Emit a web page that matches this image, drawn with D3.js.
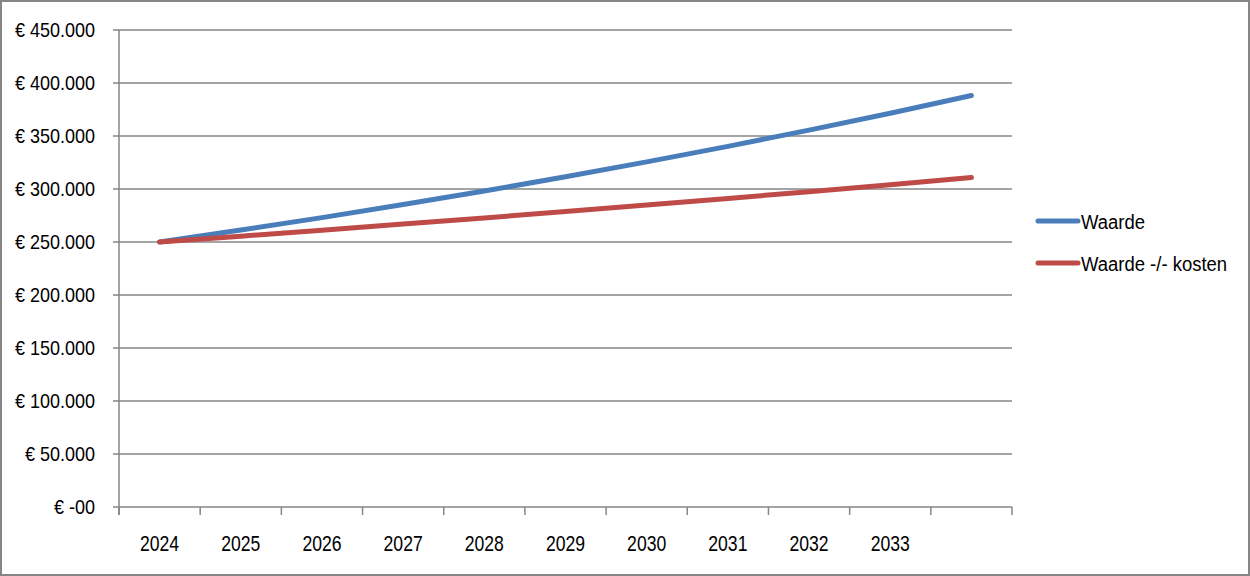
<!DOCTYPE html>
<html>
<head>
<meta charset="utf-8">
<script src="https://cdnjs.cloudflare.com/ajax/libs/d3/7.8.5/d3.min.js"></script>
<style>
  html, body { margin: 0; padding: 0; background: #fff; }
  text { font-family: "Liberation Sans", sans-serif; fill: #000; }
</style>
</head>
<body>
<div id="chart"></div>
<script>
// categories (last band has no label in the original)
var years = ['2024', '2025', '2026', '2027', '2028', '2029', '2030', '2031', '2032', '2033', ''];

// values
var waarde = [250000, 261300, 273000, 285300, 298100, 311500, 325600, 340200, 355500, 371500, 388200];
var waardeMinKosten = [250000, 255500, 261100, 266900, 272700, 278700, 284900, 291100, 297500, 304100, 310800];

var yTicks = [0, 50000, 100000, 150000, 200000, 250000, 300000, 350000, 400000, 450000];

var series = [
  {name: 'Waarde', values: waarde, color: '#4a7ebb'},
  {name: 'Waarde -/- kosten', values: waardeMinKosten, color: '#be4b48'}
];

var width = 1250, height = 576;
var margin = {left: 119, right: 238, top: 30, bottom: 69};

var svg = d3.select('#chart').append('svg')
  .attr('width', width)
  .attr('height', height);

// outer frame
svg.append('rect')
  .attr('x', 1).attr('y', 1)
  .attr('width', width - 2).attr('height', height - 2)
  .attr('fill', '#fff')
  .attr('stroke', '#868686')
  .attr('stroke-width', 2);

var x = d3.scaleBand()
  .domain(d3.range(years.length))
  .range([margin.left, width - margin.right]);

var y = d3.scaleLinear()
  .domain([0, 450000])
  .range([height - margin.bottom, margin.top]);

function euro(v) {
  if (v === 0) return '€ -00';
  return '€ ' + d3.format(',')(v).replace(/,/g, '.');
}

// narrow text: the original uses a condensed face, so squeeze horizontally
function place(px, py, sx) {
  return 'translate(' + px + ',' + py + ') scale(' + sx + ',1)';
}

// gridlines
svg.append('g')
  .selectAll('line')
  .data(yTicks)
  .enter().append('line')
  .attr('x1', margin.left - 6)
  .attr('x2', width - margin.right)
  .attr('y1', function(d) { return y(d); })
  .attr('y2', function(d) { return y(d); })
  .attr('stroke', '#868686')
  .attr('stroke-width', 1.5);

// y axis line
svg.append('line')
  .attr('x1', margin.left).attr('x2', margin.left)
  .attr('y1', margin.top).attr('y2', height - margin.bottom + 8)
  .attr('stroke', '#868686')
  .attr('stroke-width', 1.5);

// x tick marks on band edges
var edges = d3.range(years.length + 1);
svg.append('g')
  .selectAll('line')
  .data(edges)
  .enter().append('line')
  .attr('x1', function(d) { return margin.left + d * x.step(); })
  .attr('x2', function(d) { return margin.left + d * x.step(); })
  .attr('y1', height - margin.bottom)
  .attr('y2', height - margin.bottom + 8)
  .attr('stroke', '#868686')
  .attr('stroke-width', 1.5);

// y labels
svg.append('g')
  .selectAll('text')
  .data(yTicks)
  .enter().append('text')
  .attr('transform', function(d) { return place(95, y(d), 0.9); })
  .attr('dy', '0.36em')
  .attr('text-anchor', 'end')
  .style('font-size', '20px')
  .text(euro);

// x labels
svg.append('g')
  .selectAll('text')
  .data(years)
  .enter().append('text')
  .attr('transform', function(d, i) { return place(x(i) + x.bandwidth() / 2, 551, 0.8); })
  .attr('text-anchor', 'middle')
  .style('font-size', '22px')
  .text(function(d) { return d; });

// lines
var line = d3.line()
  .x(function(d, i) { return x(i) + x.bandwidth() / 2; })
  .y(function(d) { return y(d); });

svg.append('g')
  .selectAll('path')
  .data(series)
  .enter().append('path')
  .attr('d', function(d) { return line(d.values); })
  .attr('fill', 'none')
  .attr('stroke', function(d) { return d.color; })
  .attr('stroke-width', 5)
  .attr('stroke-linecap', 'round')
  .attr('stroke-linejoin', 'round');

// legend
var legend = svg.append('g')
  .selectAll('g')
  .data(series)
  .enter().append('g')
  .attr('transform', function(d, i) { return 'translate(1038,' + (221 + i * 42) + ')'; });

legend.append('line')
  .attr('x1', 0).attr('x2', 40)
  .attr('stroke', function(d) { return d.color; })
  .attr('stroke-width', 5)
  .attr('stroke-linecap', 'round');

legend.append('text')
  .attr('transform', place(43, 0, 0.88))
  .attr('dy', '0.36em')
  .style('font-size', '21px')
  .text(function(d) { return d.name; });
</script>
</body>
</html>
